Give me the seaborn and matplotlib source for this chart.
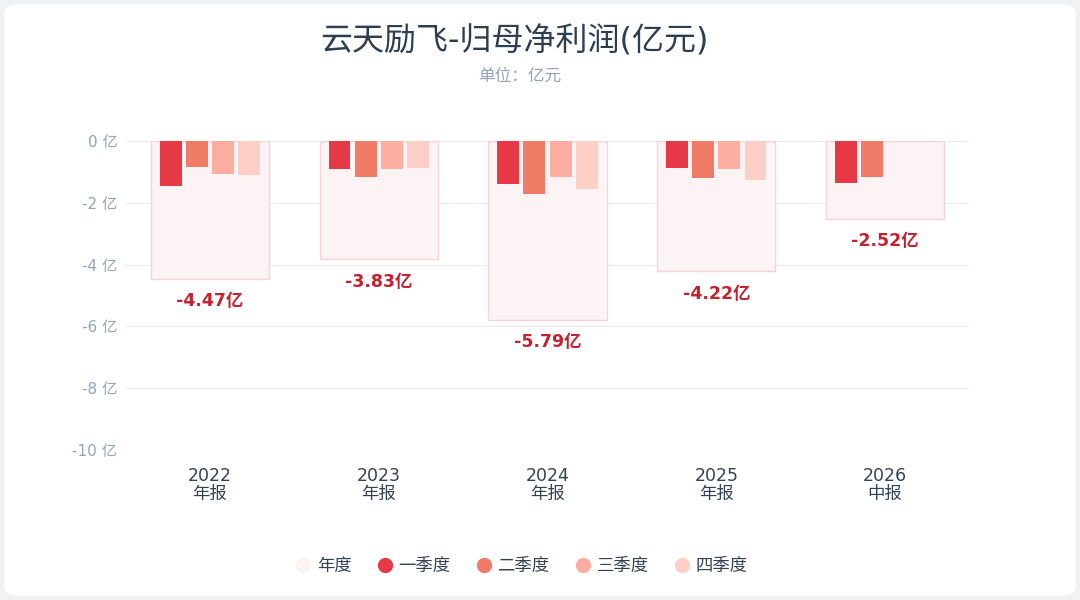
import numpy as np
import pandas as pd
import matplotlib
matplotlib.use("Agg")
import matplotlib.pyplot as plt
from matplotlib.lines import Line2D
from matplotlib.patches import FancyBboxPatch
import seaborn as sns

# data (亿元)
years = ['2022', '2023', '2024', '2025', '2026']
periods = ['年报', '年报', '年报', '年报', '中报']
annual = [-4.47, -3.83, -5.79, -4.22, -2.52]
q1 = [-1.46, -0.90, -1.38, -0.86, -1.35]
q2 = [-0.83, -1.18, -1.72, -1.20, -1.17]
q3 = [-1.07, -0.89, -1.15, -0.91, np.nan]
q4 = [-1.11, -0.86, -1.54, -1.25, np.nan]
quarter_names = ['一季度', '二季度', '三季度', '四季度']
quarter_colors = ['#e63946', '#f07b67', '#fdaea0', '#fecfc7']
annual_color = '#fbf3f4'
annual_edge = '#f6d3d7'
label_color = '#c1232f'

labels = [f"{y}\n{p}" for y, p in zip(years, periods)]

df_year = pd.DataFrame({'label': labels, 'value': annual})
rows = []
for name, vals in zip(quarter_names, [q1, q2, q3, q4]):
    for lab, v in zip(labels, vals):
        rows.append({'label': lab, 'quarter': name, 'value': v})
df_q = pd.DataFrame(rows).dropna()

sns.set_theme(style="white")
plt.rcParams['font.family'] = ['DejaVu Sans', 'Noto Sans CJK SC']

fig = plt.figure(figsize=(10.8, 6), dpi=100)
fig.patch.set_facecolor('#f1f2f4')
card = FancyBboxPatch((0.004, 0.007), 0.992, 0.986, boxstyle="round,pad=0,rounding_size=0.015",
                      transform=fig.transFigure, facecolor='white', edgecolor='none', zorder=-10)
fig.patches.append(card)

ax = fig.add_axes([125.6 / 1080, 1 - 450 / 600, (969.4 - 125.6) / 1080, 309 / 600])
ax.set_facecolor('none')

# annual background bars
sns.barplot(data=df_year, x='label', y='value', order=labels, color=annual_color,
            width=0.7, saturation=1, errorbar=None, ax=ax, zorder=1)
for p in ax.patches:
    p.set_edgecolor(annual_edge)
    p.set_linewidth(1.0)
n_annual = len(ax.patches)

# quarterly bars
sns.barplot(data=df_q, x='label', y='value', hue='quarter', order=labels,
            hue_order=quarter_names, palette=quarter_colors, width=0.62, gap=0.16,
            saturation=1, errorbar=None, legend=False, ax=ax, zorder=2)
for p in ax.patches[n_annual:]:
    p.set_edgecolor('none')

for i, v in enumerate(annual):
    ax.text(i, v - 0.72, f"{v:.2f}亿", ha='center', va='center', fontsize=12.5,
            fontweight='bold', color=label_color, zorder=3)

ax.set_xlim(-0.5, 4.5)
ax.set_ylim(-10, 0)
ax.set_yticks([0, -2, -4, -6, -8, -10])
ax.set_yticklabels([f"{t} 亿" for t in [0, -2, -4, -6, -8, -10]], color='#94a3b8', fontsize=11)
ax.tick_params(axis='y', length=0, pad=6)
ax.tick_params(axis='x', length=0, pad=12, labelsize=12.5, labelcolor='#334155')
for t in ax.get_xticklabels():
    t.set_linespacing(1.0)
ax.grid(axis='y', color='#ebebef', linewidth=0.8, zorder=0)
ax.set_axisbelow(True)
ax.set_xlabel('')
ax.set_ylabel('')
for s in ax.spines.values():
    s.set_visible(False)

fig.text(514 / 1080, 1 - 42 / 600, "云天励飞-归母净利润(亿元)", ha='center', va='center',
         fontsize=23, color='#2c3e50')
fig.text(520 / 1080, 1 - 76 / 600, "单位：亿元", ha='center', va='center',
         fontsize=12, color='#94a3b8')

handles = [Line2D([], [], marker='o', linestyle='none', markersize=11,
                  markerfacecolor=c, markeredgecolor='none')
           for c in [annual_color] + quarter_colors]
fig.legend(handles, ['年度'] + quarter_names, loc='center', bbox_to_anchor=(520 / 1080, 1 - 566 / 600),
           ncol=5, frameon=False, fontsize=12.5, handletextpad=0.2, columnspacing=1.3,
           handlelength=1.2, labelcolor='#334155')

fig.savefig('out.png', dpi=100, facecolor=fig.get_facecolor())
